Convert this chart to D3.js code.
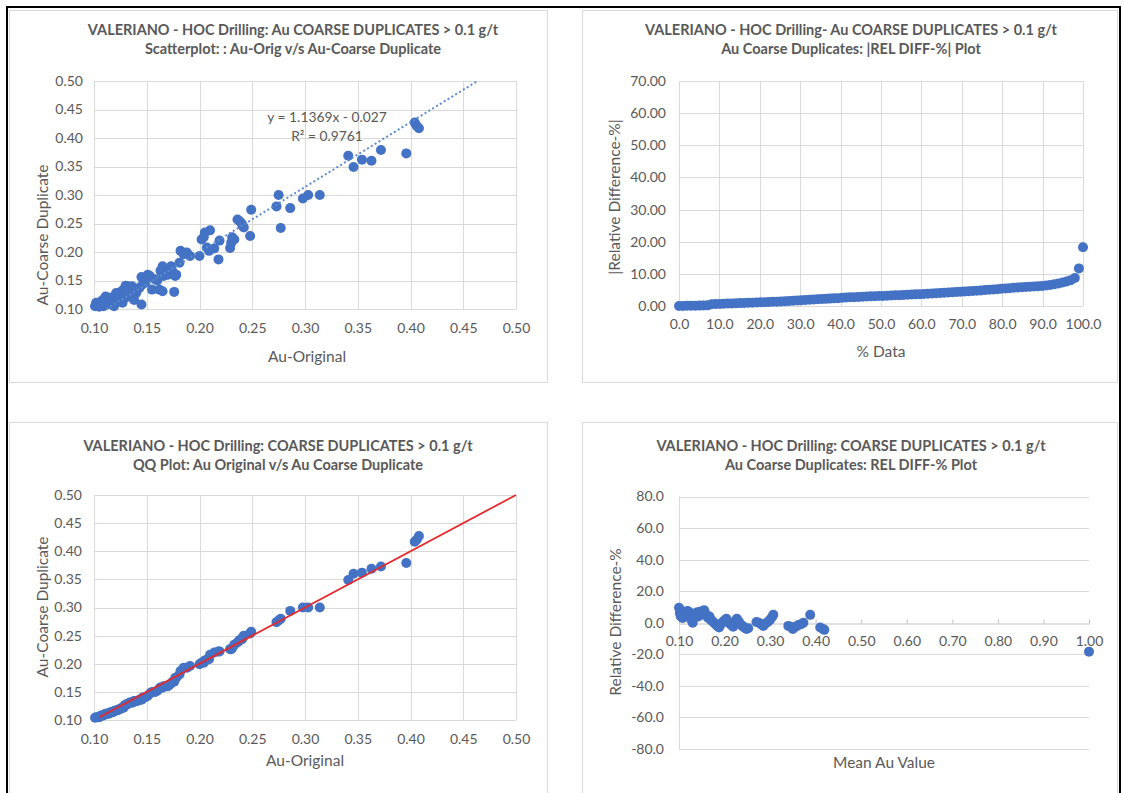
<!DOCTYPE html>
<html>
<head>
<meta charset="utf-8">
<title>Valeriano HOC coarse duplicates</title>
<script src="https://cdn.jsdelivr.net/npm/d3@7"></script>
<style>
  body { margin: 0; background: #fff; }
</style>
</head>
<body>
<svg id="chart" width="1124" height="793"></svg>
<script>
// ---- data ----

// scatter: original assay vs coarse duplicate (g/t)
const auOriginal = [
  0.101, 0.102, 0.104, 0.105, 0.106, 0.107, 0.108, 0.109, 0.110, 0.111,
  0.112, 0.113, 0.114, 0.115, 0.116, 0.117, 0.118, 0.119, 0.120, 0.121,
  0.122, 0.123, 0.124, 0.125, 0.126, 0.127, 0.128, 0.129, 0.129, 0.130,
  0.131, 0.132, 0.133, 0.134, 0.136, 0.137, 0.138, 0.139, 0.140, 0.141,
  0.143, 0.145, 0.145, 0.146, 0.148, 0.149, 0.151, 0.153, 0.155, 0.158,
  0.160, 0.162, 0.163, 0.165, 0.165, 0.166, 0.168, 0.170, 0.171, 0.173,
  0.174, 0.176, 0.177, 0.178, 0.181, 0.182, 0.185, 0.188, 0.191, 0.200,
  0.202, 0.204, 0.205, 0.207, 0.209, 0.210, 0.214, 0.218, 0.219, 0.229,
  0.230, 0.231, 0.233, 0.236, 0.238, 0.240, 0.241, 0.242, 0.248, 0.249,
  0.273, 0.275, 0.277, 0.286, 0.298, 0.303, 0.314, 0.341, 0.346, 0.354,
  0.363, 0.372, 0.396, 0.404, 0.406, 0.408
];
const auCoarseDup = [
  0.105, 0.111, 0.108, 0.104, 0.107, 0.114, 0.111, 0.105, 0.118, 0.122,
  0.108, 0.113, 0.116, 0.110, 0.120, 0.111, 0.114, 0.105, 0.118, 0.128,
  0.117, 0.114, 0.125, 0.121, 0.131, 0.111, 0.127, 0.119, 0.136, 0.141,
  0.134, 0.140, 0.122, 0.131, 0.140, 0.126, 0.116, 0.136, 0.128, 0.134,
  0.137, 0.108, 0.156, 0.143, 0.150, 0.147, 0.160, 0.158, 0.134, 0.152,
  0.150, 0.134, 0.167, 0.175, 0.131, 0.158, 0.165, 0.160, 0.162, 0.175,
  0.168, 0.130, 0.158, 0.160, 0.181, 0.202, 0.196, 0.199, 0.193, 0.193,
  0.222, 0.226, 0.234, 0.208, 0.202, 0.238, 0.206, 0.187, 0.220, 0.207,
  0.216, 0.226, 0.222, 0.257, 0.254, 0.250, 0.246, 0.243, 0.228, 0.274,
  0.280, 0.300, 0.242, 0.277, 0.294, 0.300, 0.300, 0.369, 0.349, 0.362,
  0.360, 0.379, 0.373, 0.427, 0.421, 0.417
];
// linear trendline shown on the scatter
const trendSlope = 1.1369;
const trendIntercept = -0.027;
const trendLabel = "y = 1.1369x - 0.027";
const r2Label = "R\u00B2 = 0.9761";

// QQ plot reference line end points (1:1)
const qqLineEnds = [0.105, 0.50];

// |relative difference %|, ranked low to high
const absRelDiffRanked = [
  0.00, 0.02, 0.05, 0.08, 0.10, 0.12, 0.15, 0.20,
  0.55, 0.60, 0.65, 0.70, 0.75, 0.80, 0.85, 0.90, 0.95, 1.00, 1.05, 1.10,
  1.15, 1.20, 1.25, 1.30, 1.35, 1.42, 1.48, 1.55, 1.62, 1.70,
  1.78, 1.85, 1.92, 2.00, 2.08, 2.15, 2.22, 2.30, 2.38, 2.45,
  2.55, 2.62, 2.70, 2.76, 2.82, 2.88, 2.94, 3.00, 3.05, 3.10,
  3.15, 3.20, 3.26, 3.32, 3.38, 3.44, 3.50, 3.56, 3.62, 3.68,
  3.75, 3.82, 3.90, 3.98, 4.05, 4.12, 4.20, 4.28, 4.35, 4.42,
  4.50, 4.58, 4.66, 4.75, 4.85, 4.95, 5.05, 5.15, 5.25, 5.35,
  5.45, 5.55, 5.65, 5.75, 5.85, 5.95, 6.02, 6.10, 6.18, 6.26,
  6.40, 6.55, 6.75, 7.00, 7.30, 7.65, 8.05, 8.70, 11.70, 18.30
];

// relative difference % against pair mean
const meanAu = [
  0.100, 0.102, 0.104, 0.106, 0.108, 0.110, 0.113, 0.116, 0.119, 0.121,
  0.124, 0.127, 0.130, 0.133, 0.136, 0.139, 0.142, 0.145, 0.148, 0.151,
  0.155, 0.158, 0.161, 0.164, 0.167, 0.170, 0.173, 0.177, 0.180, 0.184,
  0.188, 0.192, 0.196, 0.200, 0.204, 0.207, 0.211, 0.215, 0.219, 0.223,
  0.227, 0.231, 0.235, 0.239, 0.243, 0.248, 0.252, 0.270, 0.275, 0.280,
  0.285, 0.290, 0.295, 0.300, 0.304, 0.307, 0.340, 0.345, 0.350, 0.356,
  0.362, 0.368, 0.373, 0.388, 0.410, 0.416, 0.419, 1.000
];
const relDiff = [
  9.5, 6.0, 4.0, 7.5, 3.0, 5.0, 7.0, 6.0, 7.5, 4.0,
  6.5, 2.0, 0.0, 3.0, 5.5, 6.5, 4.0, 7.0, 5.0, 6.5,
  8.0, 6.0, 4.5, 3.0, 4.0, 2.0, 1.0, 0.0, -1.0, -2.0,
  -3.0, -1.0, 0.5, 1.5, 2.5, 1.0, -0.5, -1.5, -2.5, 1.0,
  2.5, 1.0, -1.0, -2.0, -3.0, -4.0, -3.5, 0.5, 0.0, -1.0,
  -2.0, -0.5, 0.5, 2.0, 3.5, 5.0, -2.0, -2.5, -4.0, -2.5,
  -1.5, -1.0, 0.0, 5.0, -3.0, -4.0, -4.5, -18.3
];

// tick labels
const auTicks = [0.10, 0.15, 0.20, 0.25, 0.30, 0.35, 0.40, 0.45, 0.50];
const absDiffTicks = [0, 10, 20, 30, 40, 50, 60, 70];
const pctDataTicks = [0, 10, 20, 30, 40, 50, 60, 70, 80, 90, 100];
const relDiffTicks = [-80, -60, -40, -20, 0, 20, 40, 60, 80];
const meanAuTicks = [0.10, 0.20, 0.30, 0.40, 0.50, 0.60, 0.70, 0.80, 0.90, 1.00];

// ---- drawing ----
const FONT = "Lato, 'Open Sans', sans-serif";
const TEXT = "#595959";
const GRID = "#D9D9D9";
const AXIS = "#BFBFBF";
const BLUE = "#4472C4";
const RED = "#E8292B";

const svg = d3.select("#chart").attr("font-family", FONT);

// outer black frame (picture is cut off at the bottom)
svg.append("path")
    .attr("d", "M7,793V7H1120V793")
    .attr("fill", "none")
    .attr("stroke", "#000")
    .attr("stroke-width", 2);

// chart boxes
const boxes = [[9.5, 10.5, 538, 372], [582.5, 10.5, 535, 372], [9.5, 422.5, 538, 380], [582.5, 422.5, 535, 380]];
svg.selectAll("rect.box")
    .data(boxes)
    .join("rect")
    .attr("class", "box")
    .attr("x", d => d[0]).attr("y", d => d[1])
    .attr("width", d => d[2]).attr("height", d => d[3])
    .attr("fill", "#fff")
    .attr("stroke", GRID);

function addTitle(cx, y0, lines) {
    svg.append("g").selectAll("text")
        .data(lines)
        .join("text")
        .attr("x", cx)
        .attr("y", (d, i) => y0 + i * 19)
        .attr("text-anchor", "middle")
        .attr("font-size", 14.5)
        .attr("font-weight", "bold")
        .attr("fill", TEXT)
        .text(d => d);
}

function axisTitle(x, y, label, rotate) {
    svg.append("text")
        .attr("transform", `translate(${x},${y})` + (rotate ? " rotate(-90)" : ""))
        .attr("text-anchor", "middle")
        .attr("dy", rotate ? "0.35em" : 0)
        .attr("font-size", 15.5)
        .attr("fill", TEXT)
        .text(label);
}

function grid(x, y, xVals, yVals) {
    const g = svg.append("g").attr("stroke", GRID).attr("stroke-width", 1);
    g.selectAll("line.h")
        .data(yVals)
        .join("line")
        .attr("class", "h")
        .attr("x1", x.range()[0]).attr("x2", x.range()[1])
        .attr("y1", d => Math.round(y(d)) + 0.5)
        .attr("y2", d => Math.round(y(d)) + 0.5);
    g.selectAll("line.v")
        .data(xVals)
        .join("line")
        .attr("class", "v")
        .attr("y1", y.range()[0]).attr("y2", y.range()[1])
        .attr("x1", d => Math.round(x(d)) + 0.5)
        .attr("x2", d => Math.round(x(d)) + 0.5);
}

function styleAxis(g) {
    g.attr("font-family", FONT).attr("font-size", 14);
    g.selectAll("text").attr("fill", TEXT);
    g.selectAll("line").attr("stroke", AXIS);
    return g;
}

function bottomAxis(x, yPos, ticks, fmt, pad) {
    const g = svg.append("g")
        .attr("transform", `translate(0,${yPos})`)
        .call(d3.axisBottom(x).tickValues(ticks).tickFormat(fmt).tickSize(0).tickPadding(pad));
    g.select(".domain").remove();
    return styleAxis(g);
}

function leftAxis(y, xPos, ticks, fmt, pad) {
    const g = svg.append("g")
        .attr("transform", `translate(${xPos},0)`)
        .call(d3.axisLeft(y).tickValues(ticks).tickFormat(fmt).tickSize(0).tickPadding(pad));
    g.select(".domain").remove();
    return styleAxis(g);
}

function dots(data, x, y) {
    svg.append("g").selectAll("circle")
        .data(data)
        .join("circle")
        .attr("cx", d => x(d[0]))
        .attr("cy", d => y(d[1]))
        .attr("r", 5)
        .attr("fill", BLUE);
}

const f2 = d => d.toFixed(2);
const f1 = d => d.toFixed(1);

// 1) scatter with trendline
{
    const x = d3.scaleLinear().domain([0.10, 0.50]).range([94, 516]);
    const y = d3.scaleLinear().domain([0.10, 0.50]).range([309, 81]);
    grid(x, y, auTicks, auTicks);
    bottomAxis(x, 309, auTicks, f2, 14);
    leftAxis(y, 94, auTicks, f2, 11);
    dots(d3.zip(auOriginal, auCoarseDup), x, y);

    const tx0 = (0.10 - trendIntercept) / trendSlope;
    const tx1 = (0.50 - trendIntercept) / trendSlope;
    svg.append("path")
        .datum([tx0, tx1])
        .attr("d", d3.line().x(d => x(d)).y(d => y(trendSlope * d + trendIntercept)))
        .attr("fill", "none")
        .attr("stroke", "#5B8BD0")
        .attr("stroke-width", 2)
        .attr("stroke-dasharray", "2,2.5");

    svg.append("text").attr("x", 327).attr("y", 122)
        .attr("text-anchor", "middle").attr("font-size", 13.8).attr("fill", TEXT)
        .text(trendLabel);
    svg.append("text").attr("x", 327).attr("y", 141)
        .attr("text-anchor", "middle").attr("font-size", 13.8).attr("fill", TEXT)
        .text(r2Label);

    addTitle(293, 35, ["VALERIANO - HOC Drilling: Au COARSE DUPLICATES > 0.1 g/t",
        "Scatterplot: : Au-Orig v/s Au-Coarse Duplicate"]);
    axisTitle(43, 235, "Au-Coarse Duplicate", true);
    axisTitle(307, 362, "Au-Original", false);
}

// 2) ranked |REL DIFF-%|
{
    const x = d3.scaleLinear().domain([0, 100]).range([679, 1083]);
    const y = d3.scaleLinear().domain([0, 70]).range([306, 81]);
    grid(x, y, pctDataTicks, absDiffTicks);
    bottomAxis(x, 306, pctDataTicks, f1, 13);
    leftAxis(y, 679, absDiffTicks, f2, 13);
    const n = absRelDiffRanked.length;
    dots(absRelDiffRanked.map((v, i) => [i / (n - 1) * 100, v]), x, y);

    addTitle(851, 35, ["VALERIANO - HOC Drilling- Au COARSE DUPLICATES > 0.1 g/t",
        "Au Coarse Duplicates: |REL DIFF-%| Plot"]);
    axisTitle(615, 197, "|Relative Difference-%|", true);
    axisTitle(881, 357, "% Data", false);
}

// 3) QQ plot
{
    const x = d3.scaleLinear().domain([0.10, 0.50]).range([94, 516]);
    const y = d3.scaleLinear().domain([0.10, 0.50]).range([720, 495]);
    grid(x, y, auTicks, auTicks);
    bottomAxis(x, 720, auTicks, f2, 14);
    leftAxis(y, 94, auTicks, f2, 12);
    const qqX = auOriginal.slice().sort(d3.ascending);
    const qqY = auCoarseDup.slice().sort(d3.ascending);
    dots(d3.zip(qqX, qqY), x, y);

    svg.append("path")
        .datum(qqLineEnds)
        .attr("d", d3.line().x(d => x(d)).y(d => y(d)))
        .attr("stroke", RED)
        .attr("stroke-width", 1.8);

    addTitle(278, 451, ["VALERIANO - HOC Drilling: COARSE DUPLICATES > 0.1 g/t",
        "QQ Plot: Au Original v/s Au Coarse Duplicate"]);
    axisTitle(43, 607, "Au-Coarse Duplicate", true);
    axisTitle(305, 766, "Au-Original", false);
}

// 4) REL DIFF-% against mean
{
    const x = d3.scaleLinear().domain([0.10, 1.00]).range([679, 1089]);
    const y = d3.scaleLinear().domain([-80, 80]).range([749, 496.5]);
    grid(x, y, [0.10], relDiffTicks.filter(d => d !== 0));
    const ax = svg.append("g")
        .attr("transform", `translate(0,${Math.round(y(0)) + 0.5})`)
        .call(d3.axisBottom(x).tickValues(meanAuTicks).tickFormat(f2)
            .tickSizeInner(-4).tickSizeOuter(0).tickPadding(13));
    styleAxis(ax);
    ax.select(".domain").attr("stroke", AXIS);
    leftAxis(y, 679, relDiffTicks, f1, 15);
    dots(d3.zip(meanAu, relDiff), x, y);

    addTitle(851, 451, ["VALERIANO - HOC Drilling: COARSE DUPLICATES > 0.1 g/t",
        "Au Coarse Duplicates: REL DIFF-% Plot"]);
    axisTitle(616, 622, "Relative Difference-%", true);
    axisTitle(884, 768, "Mean Au Value", false);
}
</script>
</body>
</html>
